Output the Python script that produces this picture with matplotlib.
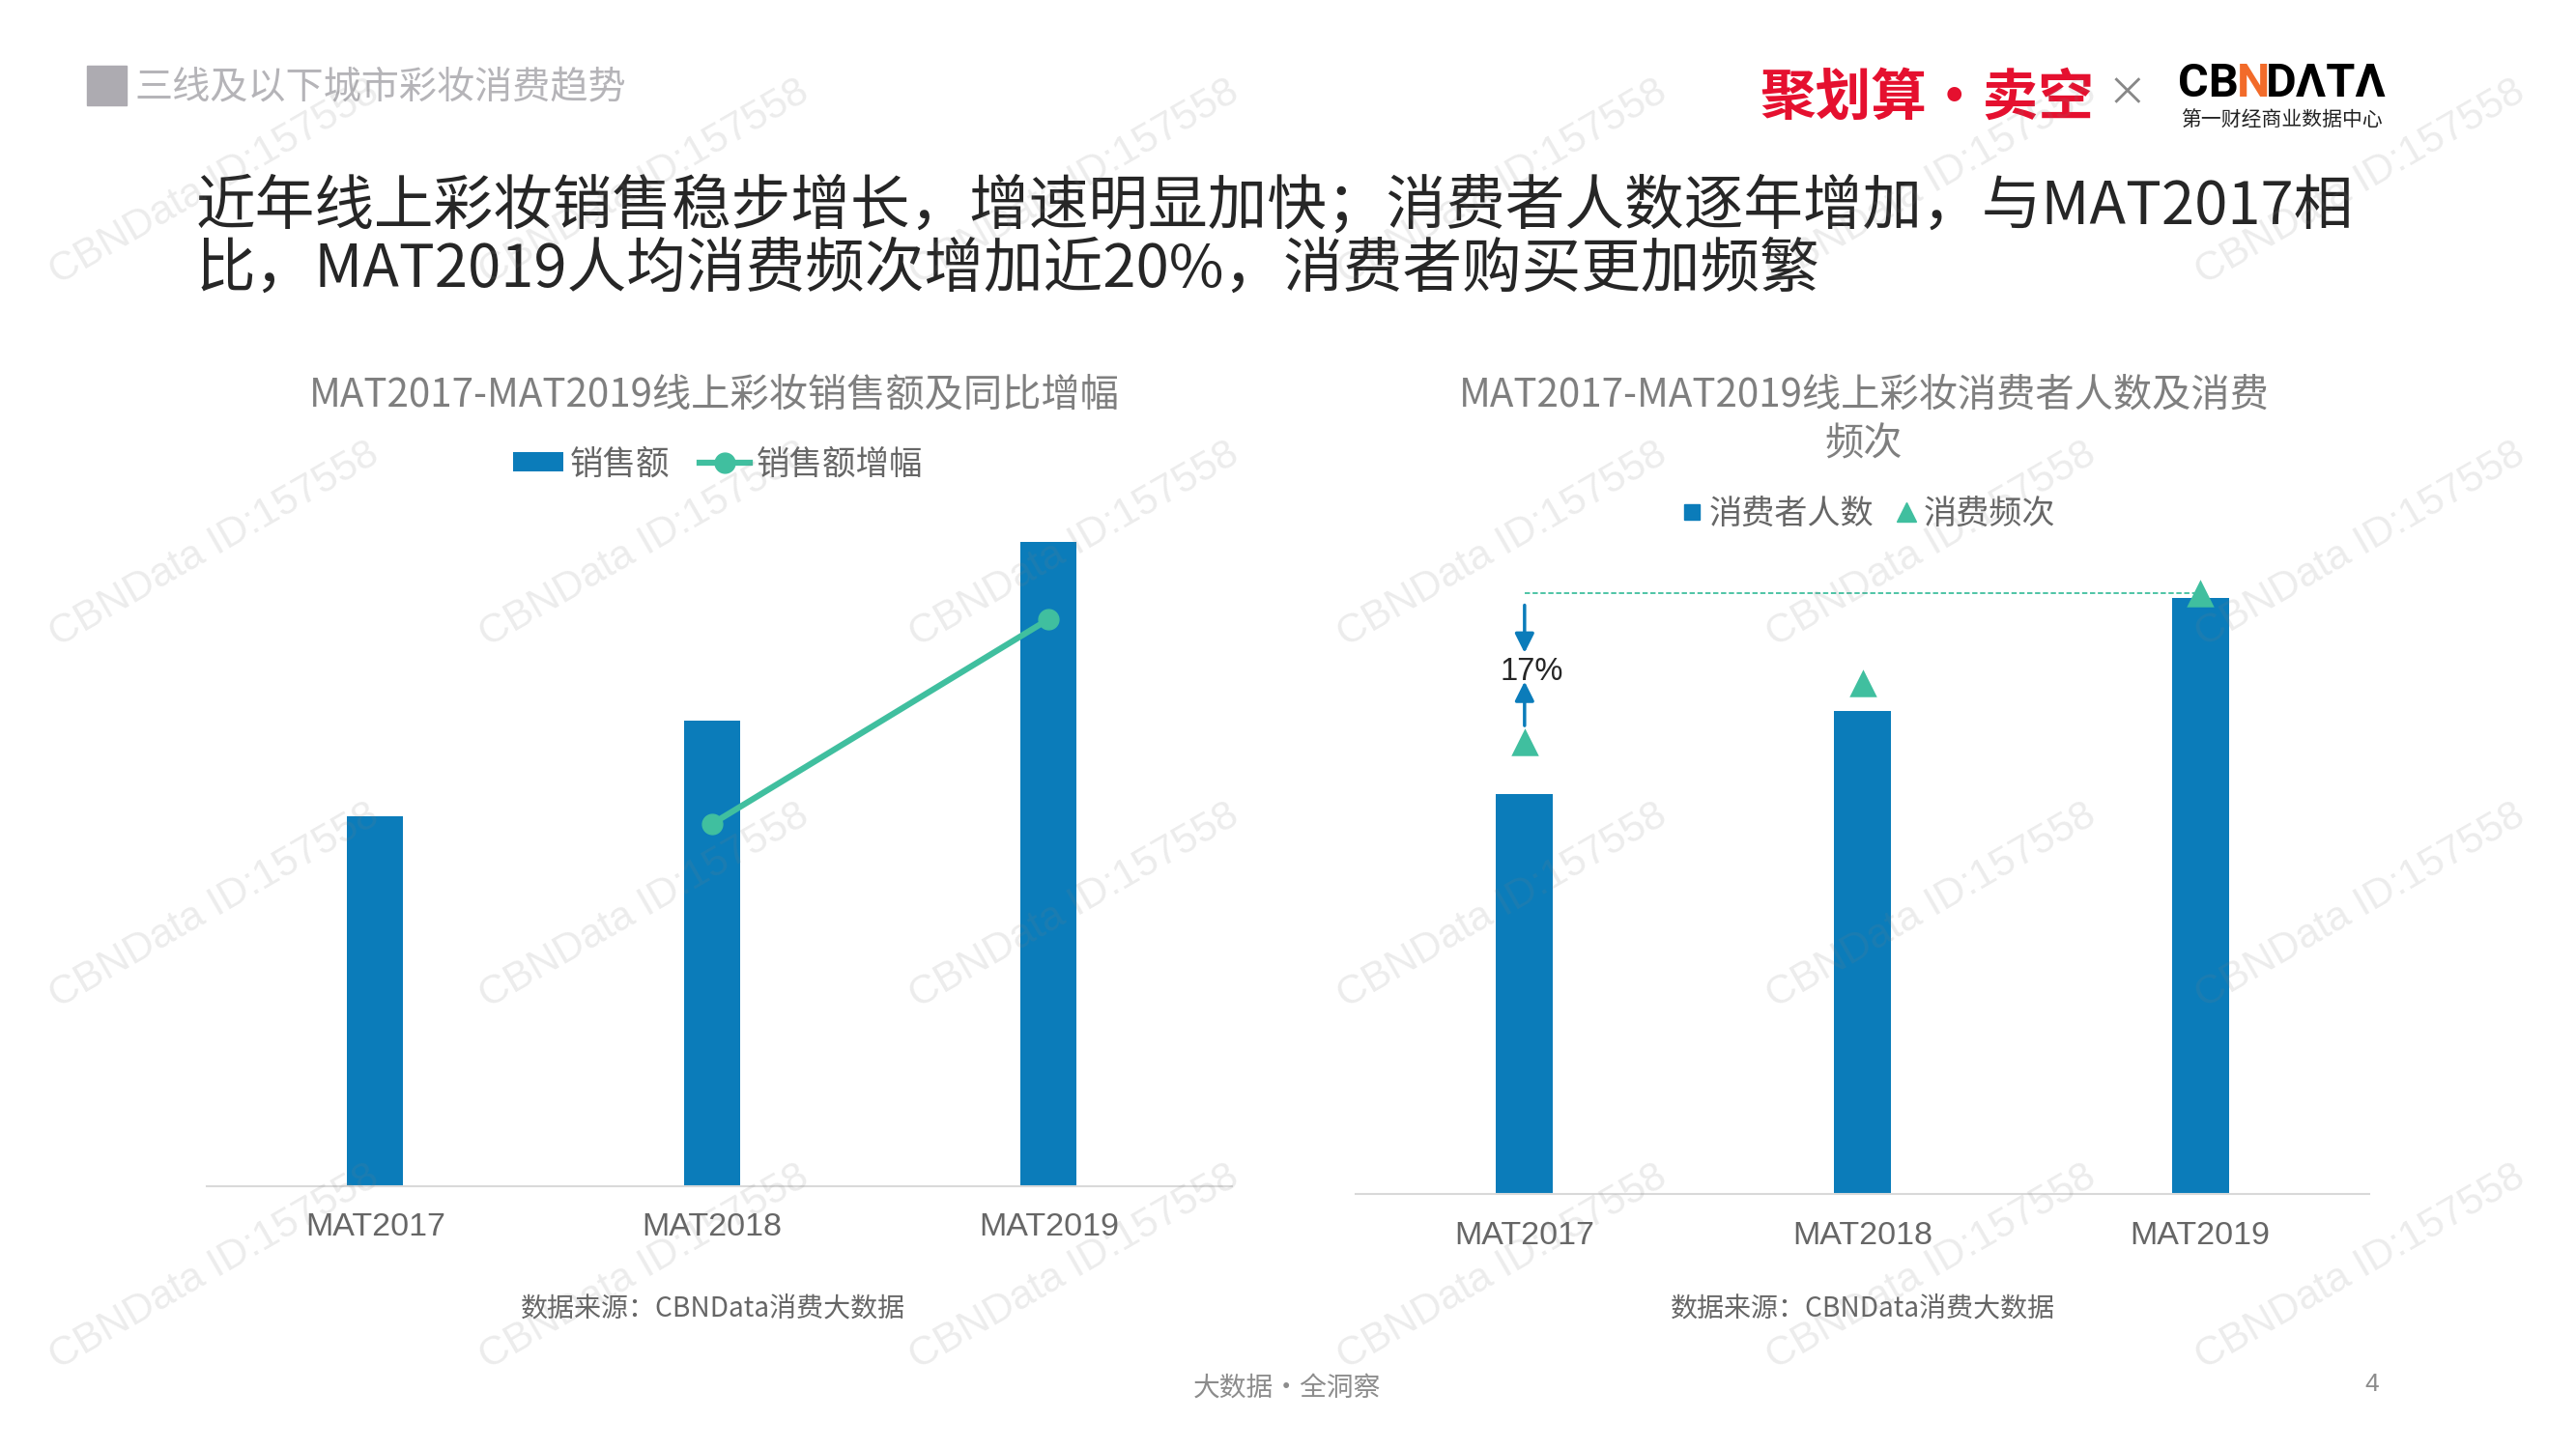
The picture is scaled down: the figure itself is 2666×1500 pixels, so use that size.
import matplotlib
matplotlib.use("Agg")
import matplotlib.pyplot as plt
from matplotlib.lines import Line2D

W, H = 2666, 1500
CJK = ["Noto Sans CJK SC", "DejaVu Sans"]
ARIAL = ["Liberation Sans", "Noto Sans CJK SC"]
plt.rcParams["font.family"] = CJK

years = ["MAT2017", "MAT2018", "MAT2019"]
sales = [0.574, 0.723, 1.0]
sales_growth_years = ["MAT2018", "MAT2019"]
sales_growth = [0.562, 0.88]
consumers = [0.671, 0.81, 1.0]
frequency = [0.758, 0.857, 1.008]

title_lines = [
    "近年线上彩妆销售稳步增长，增速明显加快；消费者人数逐年增加，与MAT2017相",
    "比，MAT2019人均消费频次增加近20%，消费者购买更加频繁",
]
watermark = "CBNData ID:157558"
watermark_x = [222, 667, 1112, 1555, 1999, 2443]
watermark_y = [189, 564, 938, 1312]

BLUE = "#0B7CBA"
GREEN = "#40BF9F"
GREY = "#7F7F7F"


def txt(x, y, s, **kw):
    kw.setdefault("ha", "center")
    kw.setdefault("va", "center")
    return fig.text(x / W, 1 - y / H, s, **kw)


def axes_px(x0, y_top, x1, y_bottom):
    return fig.add_axes([x0 / W, 1 - y_bottom / H, (x1 - x0) / W, (y_bottom - y_top) / H])


def style(ax, xlim, ylim):
    ax.set_xlim(*xlim)
    ax.set_ylim(*ylim)
    for side in ["top", "left", "right"]:
        ax.spines[side].set_visible(False)
    ax.spines["bottom"].set_color("#D9D9D9")
    ax.spines["bottom"].set_linewidth(1.5)
    ax.set_yticks([])
    ax.tick_params(axis="x", length=0, pad=20, labelsize=24.5, labelcolor="#666666")
    for t in ax.get_xticklabels():
        t.set_fontfamily(ARIAL)
    ax.patch.set_alpha(0)


fig = plt.figure(figsize=(W / 100, H / 100), dpi=100, facecolor="white")

# header
fig.patches.append(plt.Rectangle((90 / W, 1 - 109 / H), 41 / W, 41 / H, transform=fig.transFigure, color="#ADABB1"))
txt(140, 90, "三线及以下城市彩妆消费趋势", ha="left", fontsize=28.2, color="#B5B4B8", fontweight="light")
txt(203, 214, title_lines[0], ha="left", fontsize=44.4, color="#262626")
txt(203, 279, title_lines[1], ha="left", fontsize=44.4, color="#262626")

# logos
txt(1994, 102, "聚划算·卖空", fontsize=41.5, color="#E5102F", fontweight="bold")
txt(2201, 98, "×", fontsize=30, color="#888888", fontweight="light")
txt(2254, 87, "CB", ha="left", fontsize=35, color="black", fontweight="bold", family=["Roboto"])
txt(2315, 87, "N", ha="left", fontsize=35, color="#F26B2A", fontweight="bold", family=["Roboto"])
txt(2345, 87, "DΛTΛ", ha="left", fontsize=35, color="black", fontweight="bold", family=["Roboto"])
txt(2361, 124, "第一财经商业数据中心", fontsize=15, color="#222222")

# left chart
ax1 = axes_px(214, 561, 1275, 1227.5)
bars1 = ax1.bar(years, sales, width=0.166, color=BLUE, label="销售额")
line1, = ax1.plot(sales_growth_years, sales_growth, color=GREEN, lw=4.5, marker="o", ms=15, label="销售额增幅")
style(ax1, (-0.5, 2.544), (0, 1))
ax1.legend(handles=[bars1, line1], loc="center", bbox_to_anchor=(743 / W, 1 - 481 / H), bbox_transform=fig.transFigure,
           ncol=2, frameon=False, fontsize=24.8, labelcolor="#666666", handlelength=1.5, handleheight=0.5,
           handletextpad=0.2, columnspacing=0.9)
txt(739, 409, "MAT2017-MAT2019线上彩妆销售额及同比增幅", fontsize=29, color=GREY)
txt(738, 1354, "数据来源：CBNData消费大数据", fontsize=20.2, color="#666666")

# right chart
ax2 = axes_px(1403, 600, 2452, 1236)
ax2.bar(years, consumers, width=0.168, color=BLUE)
ax2.scatter(years, frequency, marker="^", s=420, color=GREEN, linewidths=0, zorder=3)
style(ax2, (-0.5, 2.5), (0, 1.031))
ax2.plot(years[0::2], [frequency[2], frequency[2]], color=GREEN, lw=1.3, ls=(0, (3, 1.5)))
arrow = dict(arrowstyle="-|>", color=BLUE, lw=2.5, mutation_scale=30, shrinkA=0, shrinkB=0)
ax2.annotate("", xy=(0, 0.908), xytext=(0, 0.988), arrowprops=arrow)
ax2.annotate("", xy=(0, 0.860), xytext=(0, 0.786), arrowprops=arrow)
ax2.text(0.02, 0.876, "17%", ha="center", va="center", fontsize=23.5, color="#262626", family=ARIAL)
legend2 = [
    Line2D([], [], ls="none", marker="s", ms=12, color=BLUE, label="消费者人数"),
    Line2D([], [], ls="none", marker="^", ms=15, color=GREEN, label="消费频次"),
]
ax2.legend(handles=legend2, loc="center", bbox_to_anchor=(1934 / W, 1 - 532 / H), bbox_transform=fig.transFigure,
           ncol=2, frameon=False, fontsize=24.6, labelcolor="#666666", handlelength=0.6, handletextpad=0.2,
           columnspacing=0.7)
txt(1929, 409, "MAT2017-MAT2019线上彩妆消费者人数及消费", fontsize=29, color=GREY)
txt(1929, 460, "频次", fontsize=29, color=GREY)
txt(1928, 1354, "数据来源：CBNData消费大数据", fontsize=20.2, color="#666666")

# footer
txt(1332, 1437, "大数据·全洞察", fontsize=20, color="#8C8C8C")
txt(2455, 1433, "4", fontsize=19, color="#8C8C8C", family=ARIAL)

# watermarks
for wx in watermark_x:
    for wy in watermark_y:
        txt(wx, wy, watermark, fontsize=30.5, color="#808080", alpha=0.15, rotation=30,
            family=ARIAL, rotation_mode="anchor", zorder=10)

fig.savefig("out.png", dpi=100)
